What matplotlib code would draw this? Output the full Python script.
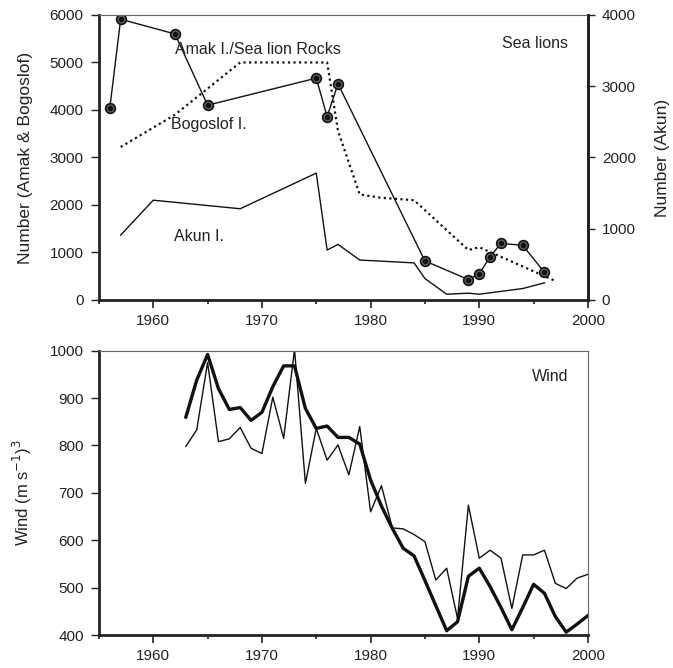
import matplotlib
matplotlib.use('Agg')
import matplotlib.pyplot as plt
from matplotlib.ticker import MultipleLocator

plt.rcParams['font.family'] = ['Liberation Sans', 'DejaVu Sans']
plt.rcParams['text.color'] = '#222'
plt.rcParams['axes.labelcolor'] = '#222'
plt.rcParams['xtick.color'] = '#222'
plt.rcParams['ytick.color'] = '#222'

# Sea lions: Bogoslof I. (circles, left axis)
bog_years = [1956, 1957, 1962, 1965, 1975, 1976, 1977, 1985, 1989, 1990, 1991, 1992, 1994, 1996]
bog_counts = [4040, 5910, 5600, 4100, 4670, 3860, 4550, 820, 430, 550, 910, 1190, 1150, 580]

# Amak I./Sea lion Rocks (dotted, left axis)
amak_years = [1957, 1962, 1968, 1976, 1977, 1979, 1981, 1984, 1989, 1990, 1997]
amak_counts = [3220, 3900, 5000, 5000, 3560, 2220, 2150, 2100, 1050, 1110, 400]

# Akun I. (thin solid, right axis)
akun_years = [1957, 1960, 1968, 1975, 1976, 1977, 1979, 1984, 1985, 1987, 1989, 1990, 1994, 1996]
akun_counts = [910, 1400, 1280, 1780, 700, 780, 560, 520, 300, 80, 95, 80, 160, 240]

# Wind
wind_years = list(range(1963, 2001))
wind_thin = [798, 833, 975, 808, 814, 838, 794, 783, 902, 815, 1003, 720, 836, 769,
             801, 738, 840, 660, 715, 626, 624, 612, 597, 516, 541, 435, 674, 562,
             579, 562, 456, 569, 569, 579, 509, 498, 520, 528]
wind_thick = [860, 938, 992, 920, 876, 880, 853, 870, 924, 968, 968, 878, 836, 841,
              817, 817, 803, 727, 672, 625, 583, 567, 515, 462, 409, 428, 524, 541,
              502, 458, 411, 458, 507, 488, 439, 406, 423, 441]

fig = plt.figure(figsize=(6.73, 6.68), dpi=100)
ax1 = fig.add_axes([0.147, 0.551, 0.7266, 0.4266])
ax3 = fig.add_axes([0.147, 0.0494, 0.7266, 0.4256])


def style_axis(ax, thick_right=False):
    for side in ['left', 'bottom']:
        ax.spines[side].set_linewidth(2.0)
        ax.spines[side].set_color('#222')
    ax.spines['top'].set_linewidth(0.8)
    ax.spines['top'].set_color('#666')
    if thick_right:
        ax.spines['right'].set_linewidth(2.0)
        ax.spines['right'].set_color('#222')
    else:
        ax.spines['right'].set_linewidth(0.8)
        ax.spines['right'].set_color('#666')
    ax.set_xlim(1955, 2000)
    ax.xaxis.set_major_locator(MultipleLocator(10))
    ax.xaxis.set_minor_locator(MultipleLocator(5))
    ax.tick_params(axis='x', which='major', direction='out', length=6, width=1.2,
                   labelsize=11, pad=4, top=False)
    ax.tick_params(axis='x', which='minor', direction='out', length=3, width=1.2, top=False)
    ax.tick_params(axis='y', which='major', direction='out', length=6, width=1.0,
                   labelsize=11, pad=5, right=False)


# --- Sea lions panel ---
style_axis(ax1, thick_right=True)
ax1.set_ylim(0, 6000)
ax1.yaxis.set_major_locator(MultipleLocator(1000))
ax1.plot(amak_years, amak_counts, color='#111', lw=1.6, linestyle=(0, (1, 1.5)))
ax1.plot(bog_years, bog_counts, color='#111', lw=1.0, marker='o', ms=7,
         mfc='#666', mec='#111', mew=1.2)
ax1.plot(bog_years, bog_counts, color='none', marker='o', ms=3, mfc='#111', mec='#111',
         linestyle='none')
ax1.set_ylabel('Number (Amak & Bogoslof)', fontsize=12.5)
ax1.yaxis.set_label_coords(-0.135, 0.5)

ax2 = ax1.twinx()
ax2.set_ylim(0, 4000)
ax2.yaxis.set_major_locator(MultipleLocator(1000))
ax2.plot(akun_years, akun_counts, color='#111', lw=1.0)
ax2.spines['right'].set_linewidth(2.0)
ax2.spines['right'].set_color('#222')
ax2.spines['top'].set_visible(False)
ax2.spines['left'].set_visible(False)
ax2.spines['bottom'].set_visible(False)
ax2.tick_params(axis='y', direction='out', length=5, width=1.0, labelsize=11, pad=5)
ax2.set_ylabel('Number (Akun)', fontsize=12.5)
ax2.yaxis.set_label_coords(1.137, 0.5)

ax1.text(1962.0, 5280, 'Amak I./Sea lion Rocks', fontsize=11.5, ha='left', va='center')
ax1.text(1961.6, 3700, 'Bogoslof I.', fontsize=11.5, ha='left', va='center')
ax1.text(1961.9, 1340, 'Akun I.', fontsize=11.5, ha='left', va='center')
ax1.text(0.96, 0.9, 'Sea lions', transform=ax1.transAxes, fontsize=11.5, ha='right', va='center')

# --- Wind panel ---
style_axis(ax3)
ax3.set_ylim(400, 1000)
ax3.yaxis.set_major_locator(MultipleLocator(100))
ax3.plot(wind_years, wind_thin, color='#111', lw=1.0)
ax3.plot(wind_years, wind_thick, color='#111', lw=2.4)
ax3.set_ylabel(r'Wind (m s$^{-1}$)$^3$', fontsize=12)
ax3.yaxis.set_label_coords(-0.132, 0.5)
ax3.text(0.96, 0.91, 'Wind', transform=ax3.transAxes, fontsize=11.5, ha='right', va='center')

fig.savefig('out.png', dpi=100)
